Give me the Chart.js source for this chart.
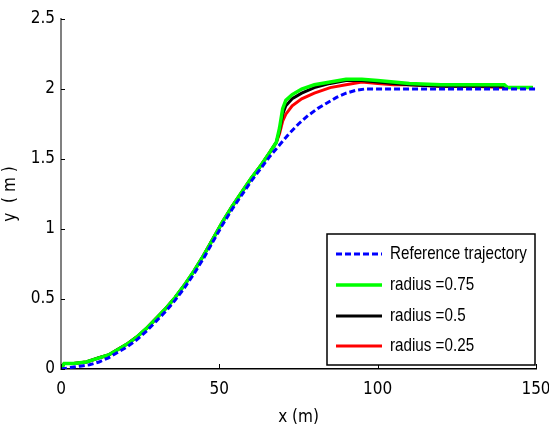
<!DOCTYPE html>
<html>
<head>
<meta charset="utf-8">
<script src="https://cdn.jsdelivr.net/npm/chart.js@4/dist/chart.umd.min.js"></script>
<style>
html,body{margin:0;padding:0;background:#fff;}
#wrap{width:549px;height:428px;}
</style>
</head>
<body>
<div id="wrap"><canvas id="c" width="549" height="428"></canvas></div>
<script>
// ---- data ----
const refX = [0,3,6,9,12,15,18,21,24,27,30,33,36,39,42,45,48,51,54,57,60,63,66,69,72,75,78,81,84,87,90,93,96,99,102,110,120,130,140,150];
const refY = [0,0.01,0.02,0.03,0.05,0.08,0.12,0.16,0.21,0.27,0.34,0.41,0.49,0.58,0.68,0.79,0.91,1.03,1.14,1.24,1.34,1.43,1.52,1.60,1.68,1.75,1.81,1.86,1.90,1.94,1.97,1.99,2.0,2.0,2.0,2.0,2.0,2.0,2.0,2.0];

const simX = [0,1,4,8,12,15,18,21,24,27,30,33,36,39,42,45,48,51,54,57,60,63,66,68,69,70,71,73,76,80,85,90,95,100,105,110,120,130,140,141,145,149];
const r075Y = [0,0.04,0.04,0.05,0.08,0.10,0.14,0.18,0.23,0.29,0.36,0.43,0.51,0.60,0.70,0.81,0.93,1.05,1.16,1.26,1.36,1.45,1.55,1.62,1.72,1.86,1.92,1.96,2.00,2.03,2.05,2.07,2.07,2.06,2.05,2.04,2.03,2.03,2.03,2.01,2.01,2.01];
const r050Y = [0,0.04,0.04,0.05,0.08,0.10,0.14,0.18,0.23,0.29,0.36,0.43,0.51,0.60,0.70,0.81,0.93,1.05,1.16,1.26,1.36,1.45,1.55,1.62,1.70,1.82,1.88,1.93,1.97,2.01,2.04,2.06,2.06,2.05,2.04,2.03,2.02,2.02,2.02,2.01,2.01,2.01];
const r025Y = [0,0.04,0.04,0.05,0.08,0.10,0.14,0.18,0.23,0.29,0.36,0.43,0.51,0.60,0.70,0.81,0.93,1.05,1.16,1.26,1.36,1.45,1.55,1.62,1.68,1.77,1.82,1.88,1.93,1.97,2.01,2.03,2.05,2.04,2.03,2.03,2.02,2.02,2.01,2.01,2.01,2.01];

const seriesLabels = ['Reference trajectory','radius =0.75','radius =0.5','radius =0.25'];
const xTicks = [0,50,100,150];
const yTicks = [0,0.5,1,1.5,2,2.5];

const FONT = "'DejaVu Sans Condensed','Liberation Sans',Arial,sans-serif";
const LEGFONT = "'Liberation Sans',Arial,sans-serif";

function pts(xs, ys){ return xs.map((x,i)=>({x:x,y:ys[i]})); }

const insideTicks = {
  id:'insideTicks',
  afterDraw(chart){
    const ctx = chart.ctx, xs = chart.scales.x, ys = chart.scales.y;
    ctx.save();
    ctx.strokeStyle = '#000'; ctx.lineWidth = 1;
    xTicks.forEach(v=>{
      const px = Math.round(xs.getPixelForValue(v))+0.5;
      ctx.beginPath(); ctx.moveTo(px, ys.bottom); ctx.lineTo(px, ys.bottom-5); ctx.stroke();
    });
    yTicks.forEach(v=>{
      const py = Math.round(ys.getPixelForValue(v))+0.5;
      ctx.beginPath(); ctx.moveTo(xs.left, py); ctx.lineTo(xs.left+4, py); ctx.stroke();
    });
    // legend box
    const bx=327, by=234, bw=208, bh=131;
    ctx.fillStyle='#fff'; ctx.fillRect(bx,by,bw,bh);
    ctx.strokeStyle='#000'; ctx.lineWidth=1.5; ctx.strokeRect(bx,by,bw,bh);
    const rows=[254,285,316,346];
    chart.data.datasets.forEach((ds,i)=>{
      ctx.beginPath();
      ctx.strokeStyle=ds.borderColor; ctx.lineWidth=ds.borderWidth;
      ctx.setLineDash(ds.borderDash||[]);
      ctx.moveTo(336, rows[i]); ctx.lineTo(382, rows[i]); ctx.stroke();
      ctx.setLineDash([]);
      ctx.save();
      ctx.translate(390, rows[i]);
      ctx.scale(0.8, 1);
      ctx.fillStyle='#000'; ctx.font="19px "+LEGFONT; ctx.textBaseline='middle'; ctx.textAlign='left';
      ctx.fillText(ds.label, 0, 0);
      ctx.restore();
    });
    ctx.restore();
  }
};

new Chart(document.getElementById('c'), {
  type:'line',
  data:{
    datasets:[
      {label:seriesLabels[0], data:pts(refX,refY), borderColor:'#0000ff', borderWidth:3, borderDash:[6,3], order:0},
      {label:seriesLabels[1], data:pts(simX,r075Y), borderColor:'#00ff00', borderWidth:3.5, order:1},
      {label:seriesLabels[2], data:pts(simX,r050Y), borderColor:'#000000', borderWidth:3, order:2},
      {label:seriesLabels[3], data:pts(simX,r025Y), borderColor:'#ff0000', borderWidth:3, order:3}
    ]
  },
  options:{
    responsive:false, animation:false,
    layout:{padding:{left:0,top:19,right:13,bottom:0}},
    elements:{point:{radius:0}, line:{tension:0, fill:false}},
    plugins:{legend:{display:false}, tooltip:{enabled:false}},
    scales:{
      x:{type:'linear', min:0, max:150,
        afterBuildTicks(s){ s.ticks = xTicks.map(v=>({value:v})); },
        afterFit(s){ s.height = 59; s.paddingLeft = 0; s.paddingRight = 0; },
        grid:{display:false, drawTicks:false},
        border:{display:true, color:'#000', width:1.5},
        ticks:{color:'#000', font:{family:FONT, size:17}, padding:10, maxRotation:0},
        title:{display:true, text:'x (m)', color:'#000', font:{family:FONT, size:17}, padding:{top:2,bottom:0}}
      },
      y:{type:'linear', min:0, max:2.5,
        afterBuildTicks(s){ s.ticks = yTicks.map(v=>({value:v})); },
        afterFit(s){ s.width = 61; s.paddingTop = 0; s.paddingBottom = 0; },
        grid:{display:false, drawTicks:false},
        border:{display:true, color:'#808080', width:2},
        ticks:{color:'#000', font:{family:FONT, size:17}, padding:6, callback:(v)=>String(v)},
        title:{display:true, text:'y  ( m )', color:'#000', font:{family:FONT, size:17}, padding:{top:0,bottom:4}}
      }
    }
  },
  plugins:[insideTicks]
});
</script>
</body>
</html>
